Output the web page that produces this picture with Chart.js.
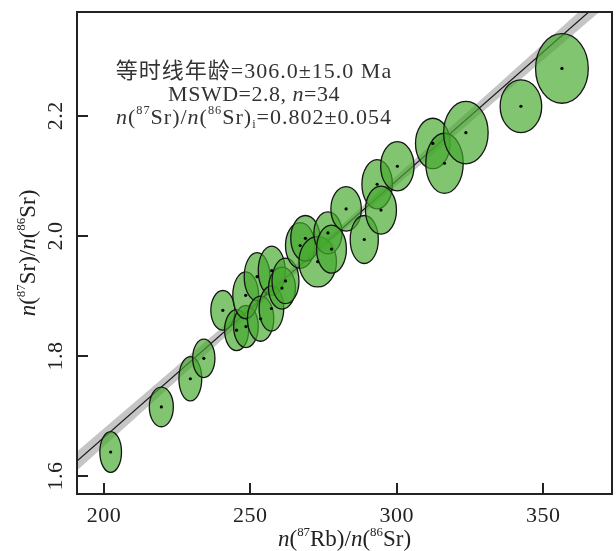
<!DOCTYPE html>
<html lang="zh">
<head>
<meta charset="UTF-8">
<title>Rb-Sr 等时线</title>
<script src="https://cdn.jsdelivr.net/npm/chart.js"></script>
<style>
  body { margin: 0; background: #fff; }
  #wrap { width: 616px; height: 551px; }
</style>
</head>
<body>
<div id="wrap"><canvas id="isochron" width="616" height="551"></canvas></div>
<script>
// measured points: n(87Rb)/n(86Sr), n(87Sr)/n(86Sr) and ellipse half-axes
const rbSr = [202.3, 219.6, 229.5, 234.1, 240.6, 245.3, 248.5, 248.4, 252.3, 253.5,
              257.3, 257.2, 260.8, 262.0, 267.0, 268.8, 273.0, 276.5, 277.7, 282.7,
              288.9, 293.3, 294.6, 300.2, 312.3, 316.3, 323.6, 342.4, 356.4];
const srSr = [1.640, 1.715, 1.762, 1.796, 1.876, 1.843, 1.849, 1.901, 1.932, 1.862,
              1.942, 1.879, 1.913, 1.925, 1.984, 1.996, 1.957, 2.005, 1.978, 2.045,
              1.994, 2.086, 2.043, 2.116, 2.154, 2.121, 2.172, 2.216, 2.279];
const errX = [3.7, 4.1, 3.9, 3.8, 4.1, 4.1, 4.2, 4.4, 4.4, 4.5,
              4.6, 4.2, 4.6, 4.6, 5.0, 5.0, 6.4, 4.8, 5.1, 5.2,
              4.8, 5.2, 5.3, 5.7, 5.9, 6.4, 7.6, 7.1, 9.0];
const errY = [0.034, 0.033, 0.037, 0.032, 0.033, 0.034, 0.035, 0.039, 0.040, 0.0375,
              0.041, 0.0375, 0.035, 0.038, 0.038, 0.038, 0.042, 0.035, 0.040, 0.037,
              0.040, 0.041, 0.040, 0.041, 0.042, 0.050, 0.052, 0.044, 0.058];

// isochron line and its error band
const lineX = [190.8, 373.5];
const lineY = [1.625, 2.407];
const bandX = [190.8, 280, 373.5];
const bandHi = [1.641, 2.013, 2.423];
const bandLo = [1.609, 2.001, 2.391];

const xTicks = [200, 250, 300, 350];
const yTicks = [1.6, 1.8, 2.0, 2.2];
const yTickLabels = ['1.6', '1.8', '2.0', '2.2'];

const serif = '"Liberation Serif", "Times New Roman", "Noto Sans CJK SC", serif';

// text runs: { t, it (italic), sup, sub }
function drawRich(ctx, runs, cx, base, size, angle, spacing) {
    const fontFor = r => {
        const s = (r.sup || r.sub) ? size * 0.56 : size;
        return (r.it ? 'italic ' : '') + s + 'px ' + serif;
    };
    ctx.save();
    ctx.letterSpacing = (spacing || 0) + 'px';
    let w = 0;
    runs.forEach(r => { ctx.font = fontFor(r); w += ctx.measureText(r.t).width; });
    ctx.translate(cx, base);
    ctx.rotate(angle || 0);
    ctx.textAlign = 'left';
    ctx.textBaseline = 'alphabetic';
    let x = -w / 2;
    runs.forEach(r => {
        ctx.font = fontFor(r);
        const dy = r.sup ? -size * 0.45 : r.sub ? size * 0.2 : 0;
        ctx.fillText(r.t, x, dy);
        x += ctx.measureText(r.t).width;
    });
    ctx.restore();
}

const ellipsePlugin = {
    id: 'ellipses',
    afterDatasetDraw(chart, args) {
        if (args.index !== 2) return;
        const ctx = chart.ctx, xs = chart.scales.x, ys = chart.scales.y;
        ctx.save();
        rbSr.forEach((v, i) => {
            const cx = xs.getPixelForValue(v);
            const cy = ys.getPixelForValue(srSr[i]);
            const rx = Math.abs(xs.getPixelForValue(v + errX[i]) - cx);
            const ry = Math.abs(ys.getPixelForValue(srSr[i] + errY[i]) - cy);
            ctx.beginPath();
            ctx.ellipse(cx, cy, rx, ry, 0, 0, Math.PI * 2);
            ctx.fillStyle = 'rgba(70, 170, 45, 0.68)';
            ctx.fill();
            ctx.lineWidth = 1.3;
            ctx.strokeStyle = '#151515';
            ctx.stroke();
        });
        ctx.restore();
    }
};

const framePlugin = {
    id: 'frame',
    afterDraw(chart) {
        const ctx = chart.ctx, a = chart.chartArea;
        const xs = chart.scales.x, ys = chart.scales.y;
        ctx.save();
        ctx.strokeStyle = '#222';
        ctx.lineWidth = 2;
        ctx.strokeRect(a.left, a.top, a.right - a.left, a.bottom - a.top);
        ctx.beginPath();
        xTicks.forEach(t => {
            const px = Math.round(xs.getPixelForValue(t));
            ctx.moveTo(px, a.bottom);
            ctx.lineTo(px, a.bottom - 11);
        });
        yTicks.forEach(t => {
            const py = Math.round(ys.getPixelForValue(t));
            ctx.moveTo(a.left, py);
            ctx.lineTo(a.left + 11, py);
        });
        ctx.stroke();

        ctx.fillStyle = '#222';
        xTicks.forEach(t => {
            drawRich(ctx, [{ t: String(t) }], xs.getPixelForValue(t), a.bottom + 28, 22, 0, 0.5);
        });
        yTicks.forEach((t, i) => {
            drawRich(ctx, [{ t: yTickLabels[i] }], a.left - 15, ys.getPixelForValue(t), 22, -Math.PI / 2, 0.5);
        });

        // axis titles
        drawRich(ctx, [{ t: 'n', it: true }, { t: '(' }, { t: '87', sup: true }, { t: 'Rb)/' },
                       { t: 'n', it: true }, { t: '(' }, { t: '86', sup: true }, { t: 'Sr)' }],
                 (a.left + a.right) / 2, 546, 23);
        drawRich(ctx, [{ t: 'n', it: true }, { t: '(' }, { t: '87', sup: true }, { t: 'Sr)/' },
                       { t: 'n', it: true }, { t: '(' }, { t: '86', sup: true }, { t: 'Sr)' }],
                 35, (a.top + a.bottom) / 2, 23, -Math.PI / 2);

        // result annotation
        ctx.fillStyle = '#333';
        drawRich(ctx, [{ t: '等时线年龄=306.0±15.0 Ma' }], 254, 78, 22, 0, 1);
        drawRich(ctx, [{ t: 'MSWD=2.8, ' }, { t: 'n', it: true }, { t: '=34' }], 254, 101, 22, 0, 0.5);
        drawRich(ctx, [{ t: 'n', it: true }, { t: '(' }, { t: '87', sup: true }, { t: 'Sr)/' },
                       { t: 'n', it: true }, { t: '(' }, { t: '86', sup: true }, { t: 'Sr)' },
                       { t: 'i', sub: true }, { t: '=0.802±0.054' }], 254, 124, 22, 0, 1);
        ctx.restore();
    }
};

const toPts = (xs, ys) => xs.map((x, i) => ({ x: x, y: ys[i] }));

new Chart(document.getElementById('isochron'), {
    type: 'scatter',
    data: {
        datasets: [{
            label: 'centers',
            data: toPts(rbSr, srSr),
            pointRadius: 1.6,
            pointBackgroundColor: '#000',
            pointBorderWidth: 0,
            order: 0
        }, {
            label: 'band low',
            data: toPts(bandX, bandLo),
            showLine: true,
            borderWidth: 0,
            pointRadius: 0,
            fill: false,
            order: 3
        }, {
            label: 'isochron',
            data: toPts(lineX, lineY),
            showLine: true,
            borderColor: '#1a1a1a',
            borderWidth: 1.2,
            pointRadius: 0,
            order: 1
        }, {
            label: 'band high',
            data: toPts(bandX, bandHi),
            showLine: true,
            borderWidth: 0,
            pointRadius: 0,
            fill: 1,
            backgroundColor: 'rgba(150, 150, 150, 0.55)',
            order: 2
        }]
    },
    options: {
        responsive: false,
        animation: false,
        devicePixelRatio: 1,
        layout: { padding: { left: 77, top: 12, right: 1, bottom: 57 } },
        plugins: { legend: { display: false }, tooltip: { enabled: false } },
        scales: {
            x: { type: 'linear', min: 190.8, max: 373.5, display: false },
            y: { type: 'linear', min: 1.57, max: 2.373, display: false }
        }
    },
    plugins: [ellipsePlugin, framePlugin]
});
</script>
</body>
</html>
